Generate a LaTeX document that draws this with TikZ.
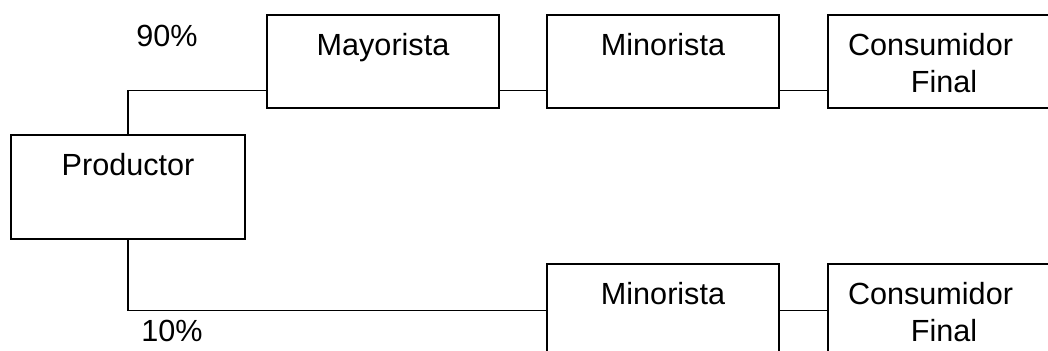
\documentclass[tikz,border=0pt]{standalone}
\usepackage{fontspec}
\setmainfont{Liberation Sans}
\tikzset{
  caja/.style={draw, rectangle, inner sep=0pt, outer sep=0pt,
    minimum width=116pt, minimum height=46.5pt},
  rotulo/.style={anchor=north, inner sep=0pt, yshift=-9pt, align=center,
    font=\fontsize{15.3}{18.5}\selectfont},
}
\begin{document}
\begin{tikzpicture}[x=0.5pt, y=-0.5pt, line width=0.8pt,
    every node/.style={font=\fontsize{15.3}{18.5}\selectfont}]
  \useasboundingbox (0,0) rectangle (1048,351);
  \node[caja, minimum width=117pt, minimum height=52pt,
    label={[rotulo]north:Productor}] (prod) at (128,187) {};
  \node[caja, label={[rotulo]north:Mayorista}] (may) at (383,61.5) {};
  \node[caja, label={[rotulo]north:Minorista}] (minA) at (663,61.5) {};
  \node[caja, label={[rotulo]north:{Consumidor\hspace*{13.5pt}\\Final}}] (conA) at (944,61.5) {};
  \node[caja, label={[rotulo]north:Minorista}] (minB) at (663,310.5) {};
  \node[caja, label={[rotulo]north:{Consumidor\hspace*{13.5pt}\\Final}}] (conB) at (944,310.5) {};
  \node (p90) at (167,36) {90\%};
  \node (p10) at (172,331) {10\%};
  \coordinate (nivel) at (0,90.7);
  \begin{scope}[-]
    \draw (prod.north) |- (may.west |- nivel);
    \draw (may.east |- nivel) -- (minA.west |- nivel);
    \draw (minA.east |- nivel) -- (conA.west |- nivel);
    \draw (prod.south) |- (minB.west);
    \draw (minB.east) -- (conB.west);
  \end{scope}
\end{tikzpicture}
\end{document}
